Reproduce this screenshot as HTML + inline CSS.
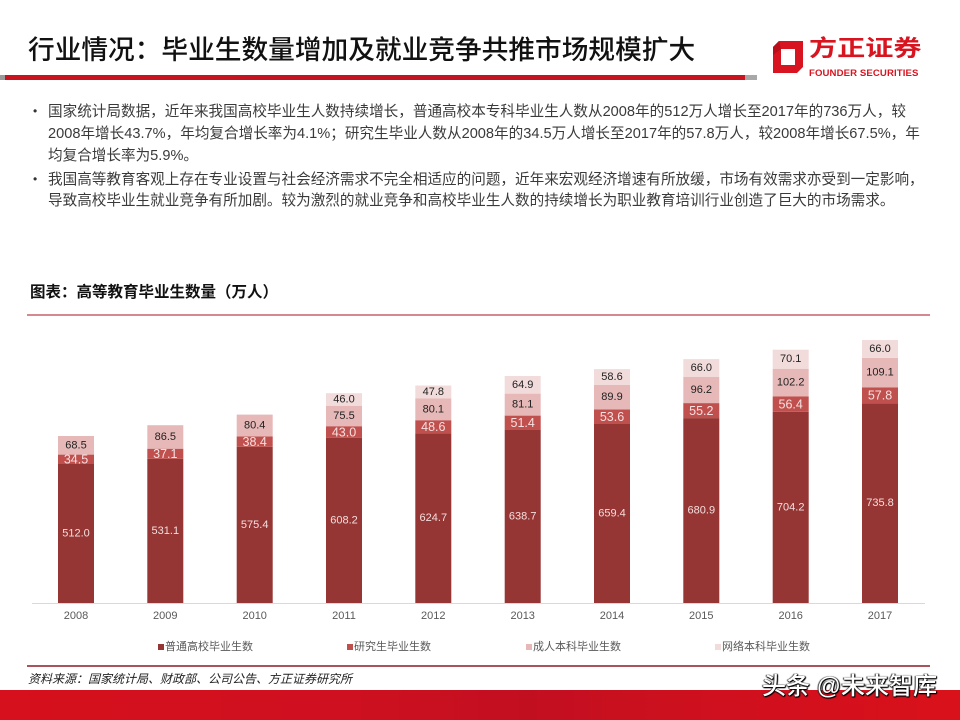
<!DOCTYPE html>
<html><head><meta charset="utf-8">
<style>
html,body{margin:0;padding:0;background:#fff;}
body{width:960px;height:720px;position:relative;overflow:hidden;font-family:"Liberation Sans","Noto Sans CJK SC",sans-serif;}
.abs{position:absolute;white-space:nowrap;}
#title{left:28px;top:35px;font-size:26.7px;line-height:30px;color:#111;font-family:"Liberation Sans","Noto Sans CJK SC",sans-serif;font-weight:500;}
#redline{left:0;top:75px;width:757px;height:5px;background:linear-gradient(90deg,#9a9a9a 0,#9a9a9a 5px,#c9141f 5px,#c21422 60%,#c9141f 745px,#a8a8a8 745px,#a8a8a8 757px);}
.bul{left:33px;font-size:12px;color:#333;}
.txt{left:48px;font-size:14.6px;line-height:22px;color:#3a3a3a;}
#ctitle{left:30px;top:283px;font-size:15.5px;line-height:20px;font-weight:bold;color:#111;}
#src{left:28px;top:671px;font-size:12px;line-height:16px;font-style:italic;color:#222;}
#band{left:0;top:690px;width:960px;height:30px;background:linear-gradient(90deg,#d6101c 0,#cf1020 35%,#c20f20 55%,#d0101e 75%,#d9111a 100%);}
#wm{left:762px;top:672px;font-size:24px;line-height:30px;color:#fff;font-weight:500;font-family:"Liberation Sans","Noto Sans CJK SC",sans-serif;text-shadow:1px 1px 1px #000,-1px 0 1px #333,0 1px 1px #000,1px 0 1px #222;}
#logo1{left:809px;top:36px;font-size:22.5px;line-height:26px;font-weight:bold;color:#d7141f;transform:scaleX(1.25);transform-origin:left top;}
#logo2{left:809px;top:68px;font-size:9.6px;line-height:11px;font-weight:bold;color:#d7141f;letter-spacing:0.1px;}
</style></head><body>

<div id="title" class="abs">行业情况：毕业生数量增加及就业竞争共推市场规模扩大</div>
<div id="redline" class="abs"></div>

<svg class="abs" style="left:0;top:0" width="960" height="720">
  <polygon points="779,41 803,41 803,67 797,73 773,73 773,47" fill="#d7141f"/>
  <polygon points="781,49 795,49 795,65 781,65" fill="#fff"/>
  <polygon points="773,47 779,41 781,49 773,55" fill="#b80f18"/>
</svg>
<div id="logo1" class="abs">方正证券</div>
<div id="logo2" class="abs">FOUNDER SECURITIES</div>

<div class="abs bul" style="top:104px;">•</div>
<div class="abs txt" style="top:101px;">国家统计局数据，近年来我国高校毕业生人数持续增长，普通高校本专科毕业生人数从2008年的512万人增长至2017年的736万人，较</div>
<div class="abs txt" style="top:123px;">2008年增长43.7%，年均复合增长率为4.1%；研究生毕业人数从2008年的34.5万人增长至2017年的57.8万人，较2008年增长67.5%，年</div>
<div class="abs txt" style="top:145px;">均复合增长率为5.9%。</div>
<div class="abs bul" style="top:172px;">•</div>
<div class="abs txt" style="top:169px;">我国高等教育客观上存在专业设置与社会经济需求不完全相适应的问题，近年来宏观经济增速有所放缓，市场有效需求亦受到一定影响，</div>
<div class="abs txt" style="top:190px;">导致高校毕业生就业竞争有所加剧。较为激烈的就业竞争和高校毕业生人数的持续增长为职业教育培训行业创造了巨大的市场需求。</div>

<div id="ctitle" class="abs">图表：高等教育毕业生数量（万人）</div>

<svg class="abs" style="left:0;top:0" width="960" height="720" font-family="Liberation Sans, sans-serif">
  <line x1="27" y1="315" x2="930" y2="315" stroke="#c9606a" stroke-width="1.5"/>
  <line x1="32" y1="603.5" x2="925" y2="603.5" stroke="#d9d9d9" stroke-width="1"/>
  <g>
    <g fill="#963634">
      <rect x="58" y="464.0" width="36" height="139.0"/>
      <rect x="147.3" y="458.8" width="36" height="144.2"/>
      <rect x="236.7" y="446.8" width="36" height="156.2"/>
      <rect x="326" y="437.9" width="36" height="165.1"/>
      <rect x="415.3" y="433.4" width="36" height="169.6"/>
      <rect x="504.7" y="429.6" width="36" height="173.4"/>
      <rect x="594" y="424.0" width="36" height="179.0"/>
      <rect x="683.3" y="418.1" width="36" height="184.9"/>
      <rect x="772.7" y="411.8" width="36" height="191.2"/>
      <rect x="862" y="403.2" width="36" height="199.8"/>
    </g>
    <g fill="#c0504d">
      <rect x="58" y="454.6" width="36" height="9.4"/>
      <rect x="147.3" y="448.7" width="36" height="10.1"/>
      <rect x="236.7" y="436.4" width="36" height="10.4"/>
      <rect x="326" y="426.2" width="36" height="11.7"/>
      <rect x="415.3" y="420.2" width="36" height="13.2"/>
      <rect x="504.7" y="415.6" width="36" height="14.0"/>
      <rect x="594" y="409.4" width="36" height="14.6"/>
      <rect x="683.3" y="403.1" width="36" height="15.0"/>
      <rect x="772.7" y="396.5" width="36" height="15.3"/>
      <rect x="862" y="387.5" width="36" height="15.7"/>
    </g>
    <g fill="#e6b9b8">
      <rect x="58" y="436.0" width="36" height="18.6"/>
      <rect x="147.3" y="425.2" width="36" height="23.5"/>
      <rect x="236.7" y="414.6" width="36" height="21.8"/>
      <rect x="326" y="405.7" width="36" height="20.5"/>
      <rect x="415.3" y="398.5" width="36" height="21.7"/>
      <rect x="504.7" y="393.6" width="36" height="22.0"/>
      <rect x="594" y="385.0" width="36" height="24.4"/>
      <rect x="683.3" y="377.0" width="36" height="26.1"/>
      <rect x="772.7" y="368.7" width="36" height="27.8"/>
      <rect x="862" y="357.9" width="36" height="29.6"/>
    </g>
    <g fill="#f2dcdb">
      <rect x="326" y="393.2" width="36" height="12.5"/>
      <rect x="415.3" y="385.5" width="36" height="13.0"/>
      <rect x="504.7" y="376.0" width="36" height="17.6"/>
      <rect x="594" y="369.1" width="36" height="15.9"/>
      <rect x="683.3" y="359.1" width="36" height="17.9"/>
      <rect x="772.7" y="349.7" width="36" height="19.0"/>
      <rect x="862" y="340.0" width="36" height="17.9"/>
    </g>
  </g>
  <g font-size="11" fill="#f4dede" text-anchor="middle" dominant-baseline="central">
    <text x="76" y="533.5">512.0</text>
    <text x="165.3" y="530.9">531.1</text>
    <text x="254.7" y="524.9">575.4</text>
    <text x="344" y="520.5">608.2</text>
    <text x="433.3" y="518.2">624.7</text>
    <text x="522.7" y="516.3">638.7</text>
    <text x="612" y="513.5">659.4</text>
    <text x="701.3" y="510.6">680.9</text>
    <text x="790.7" y="507.4">704.2</text>
    <text x="880" y="503.1">735.8</text>
  </g>
  <g font-size="12.5" fill="#f6e0e0" text-anchor="middle" dominant-baseline="central">
    <text x="76" y="459.6">34.5</text>
    <text x="165.3" y="454.0">37.1</text>
    <text x="254.7" y="441.8">38.4</text>
    <text x="344" y="432.3">43.0</text>
    <text x="433.3" y="427.0">48.6</text>
    <text x="522.7" y="422.8">51.4</text>
    <text x="612" y="416.9">53.6</text>
    <text x="701.3" y="410.8">55.2</text>
    <text x="790.7" y="404.4">56.4</text>
    <text x="880" y="395.6">57.8</text>
  </g>
  <g font-size="11" fill="#222" text-anchor="middle" dominant-baseline="central">
    <text x="76" y="445.3">68.5</text>
    <text x="165.3" y="437.0">86.5</text>
    <text x="254.7" y="425.5">80.4</text>
    <text x="344" y="416.0">75.5</text>
    <text x="433.3" y="409.4">80.1</text>
    <text x="522.7" y="404.6">81.1</text>
    <text x="612" y="397.2">89.9</text>
    <text x="701.3" y="390.1">96.2</text>
    <text x="790.7" y="382.6">102.2</text>
    <text x="880" y="372.7">109.1</text>
    <text x="344" y="399.5">46.0</text>
    <text x="433.3" y="392.0">47.8</text>
    <text x="522.7" y="384.8">64.9</text>
    <text x="612" y="377.1">58.6</text>
    <text x="701.3" y="368.1">66.0</text>
    <text x="790.7" y="359.2">70.1</text>
    <text x="880" y="349.0">66.0</text>
  </g>
  <g font-size="11" fill="#595959" text-anchor="middle" dominant-baseline="central">
    <text x="76" y="616">2008</text>
    <text x="165.3" y="616">2009</text>
    <text x="254.7" y="616">2010</text>
    <text x="344" y="616">2011</text>
    <text x="433.3" y="616">2012</text>
    <text x="522.7" y="616">2013</text>
    <text x="612" y="616">2014</text>
    <text x="701.3" y="616">2015</text>
    <text x="790.7" y="616">2016</text>
    <text x="880" y="616">2017</text>
  </g>
  <rect x="158" y="644" width="6" height="6" fill="#963634"/>
  <rect x="347" y="644" width="6" height="6" fill="#c0504d"/>
  <rect x="526" y="644" width="6" height="6" fill="#e6b9b8"/>
  <rect x="715" y="644" width="6" height="6" fill="#f2dcdb"/>
  <g font-size="11" fill="#595959" font-family="Liberation Sans, Noto Sans CJK SC, sans-serif" dominant-baseline="central">
    <text x="165" y="647">普通高校毕业生数</text>
    <text x="354" y="647">研究生毕业生数</text>
    <text x="533" y="647">成人本科毕业生数</text>
    <text x="722" y="647">网络本科毕业生数</text>
  </g>
  <line x1="27" y1="666" x2="930" y2="666" stroke="#8b1c24" stroke-width="1.5"/>
</svg>

<div id="src" class="abs">资料来源：国家统计局、财政部、公司公告、方正证券研究所</div>
<div id="band" class="abs"></div>
<div id="wm" class="abs">头条 @未来智库</div>

</body></html>
